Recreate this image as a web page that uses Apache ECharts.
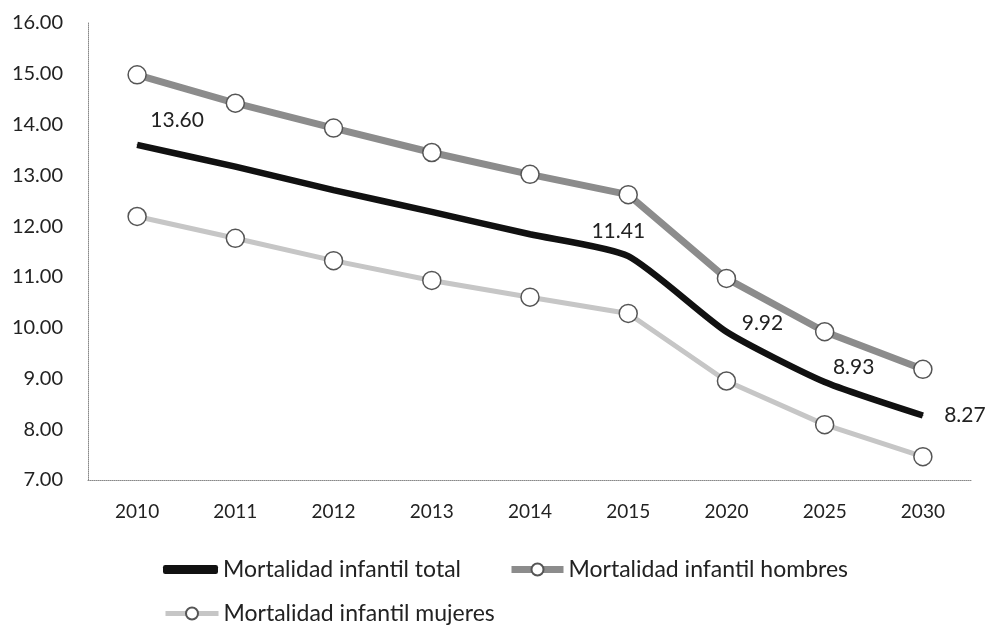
<!DOCTYPE html>
<html>
<head>
<meta charset="utf-8">
<script src="https://cdn.jsdelivr.net/npm/echarts@6/dist/echarts.min.js"></script>
<style>
  html, body { margin: 0; padding: 0; background: #fff; }
  #chart { width: 992px; height: 625px; }
</style>
</head>
<body>
<div id="chart"></div>
<script>
// datos
var years = ['2010', '2011', '2012', '2013', '2014', '2015', '2020', '2025', '2030'];
var total = [13.60, 13.17, 12.71, 12.28, 11.84, 11.41, 9.92, 8.93, 8.27];
var hombres = [14.98, 14.42, 13.93, 13.45, 13.02, 12.62, 10.97, 9.92, 9.18];
var mujeres = [12.19, 11.76, 11.32, 10.93, 10.60, 10.28, 8.95, 8.09, 7.46];
var labeledYears = ['2010', '2015', '2020', '2025', '2030'];

var names = ['Mortalidad infantil total', 'Mortalidad infantil hombres', 'Mortalidad infantil mujeres'];
var font = 'Lato, "Open Sans", sans-serif';

// desplazamiento de cada etiqueta de valor respecto al punto
var labelOffsets = {
    '2010': [40, -25],
    '2015': [-10, -25],
    '2020': [36, -8],
    '2025': [29, -15],
    '2030': [42, 0]
};

var totalData = total.map(function (v, i) {
    var y = years[i];
    if (labeledYears.indexOf(y) < 0) return v;
    return {
        value: v,
        label: {
            show: true,
            position: 'inside',
            offset: labelOffsets[y],
            formatter: function (p) { return p.value.toFixed(2); }
        }
    };
});

var legendText = { fontFamily: font, fontSize: 23, color: '#222' };

var chart = echarts.init(document.getElementById('chart'));

var option = {
    backgroundColor: '#fff',
    animation: false,
    grid: { left: 88, right: 20, top: 23, bottom: 145 },
    legend: [
        {
            data: [names[0]], left: 158, top: 553,
            icon: 'roundRect',
            itemWidth: 55, itemHeight: 9,
            textStyle: legendText
        },
        {
            data: [names[1]], left: 503, top: 553,
            itemWidth: 52, itemHeight: 15,
            lineStyle: { width: 7 },
            textStyle: legendText
        },
        {
            data: [names[2]], left: 158, top: 597,
            itemWidth: 53, itemHeight: 15,
            lineStyle: { width: 5 },
            textStyle: legendText
        }
    ],
    xAxis: {
        type: 'category',
        data: years,
        boundaryGap: true,
        axisLine: { lineStyle: { color: '#888', width: 1, type: 'dotted' } },
        axisTick: { show: false },
        axisLabel: { fontFamily: font, fontSize: 19, color: '#222', margin: 22 }
    },
    yAxis: {
        type: 'value',
        min: 7, max: 16, interval: 1,
        axisLine: { show: true, lineStyle: { color: '#888', width: 1, type: 'dotted' } },
        axisTick: { show: false },
        splitLine: { show: false },
        axisLabel: {
            fontFamily: font, fontSize: 20, color: '#222', margin: 25,
            formatter: function (v) { return v.toFixed(2); }
        }
    },
    series: [
        {
            name: names[0],
            type: 'line',
            data: totalData,
            smooth: 0.2,
            symbol: 'circle',
            symbolSize: 1,
            itemStyle: { color: '#111' },
            lineStyle: { color: '#111', width: 6.5 },
            label: { fontFamily: font, fontSize: 21, color: '#222' },
            z: 3
        },
        {
            name: names[1],
            type: 'line',
            data: hombres,
            symbol: 'circle',
            symbolSize: 18,
            itemStyle: { color: '#fff', borderColor: '#555', borderWidth: 1.5 },
            lineStyle: { color: '#8c8c8c', width: 7 },
            z: 2
        },
        {
            name: names[2],
            type: 'line',
            data: mujeres,
            symbol: 'circle',
            symbolSize: 18,
            itemStyle: { color: '#fff', borderColor: '#555', borderWidth: 1.5 },
            lineStyle: { color: '#c6c6c6', width: 5 },
            z: 2
        }
    ]
};

option && chart.setOption(option);
</script>
</body>
</html>
